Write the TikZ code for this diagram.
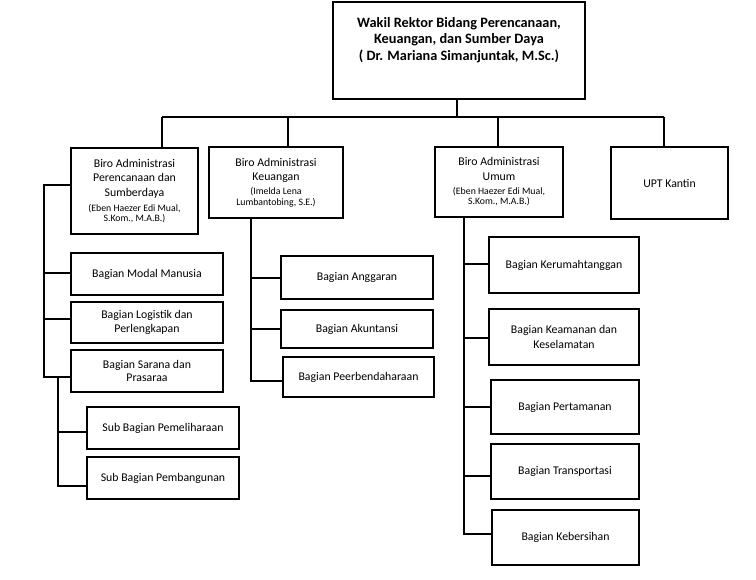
\documentclass[tikz,border=0pt]{standalone}
\usepackage{fontspec}
\setmainfont{Carlito}
\usetikzlibrary{calc}
\newcommand{\nmfont}{\fontsize{9.8}{10.5}\selectfont}
\begin{document}
\begin{tikzpicture}[x=1pt,y=-1pt,
  box/.style={draw, line width=1.1pt, inner sep=2pt, align=center,
    font=\fontsize{11.8}{14.5}\selectfont},
  conn/.style={line width=2.3pt},
  txt/.style={align=center, inner sep=0pt}]
\useasboundingbox (0,0) rectangle (756,580);
% top box
\node[box, minimum width=252pt, minimum height=97pt] (top) at (459,50.5) {};
\node[txt, font=\bfseries\fontsize{14.3}{16.8}\selectfont] (toptxt) at (459,40)
  {Wakil Rektor Bidang Perencanaan,\\Keuangan, dan Sumber Daya\\( Dr. Mariana Simanjuntak, M.Sc.)};
% level 1
\node[box, minimum width=127pt, minimum height=86pt] (b1) at (134.5,191)
  {Biro Administrasi\\Perencanaan dan\\Sumberdaya\\[0.5pt]{\nmfont (Eben Haezer Edi Mual,}\\[-4.5pt]{\nmfont S.Kom., M.A.B.)}};
\node[box, minimum width=134pt, minimum height=71pt] (b2) at (276,182.5)
  {Biro Administrasi\\Keuangan\\[-0.5pt]{\nmfont (Imelda Lena}\\[-4pt]{\nmfont Lumbantobing, S.E.)}};
\node[box, minimum width=128pt, minimum height=70pt] (b3) at (499,182)
  {Biro Administrasi\\Umum\\[0pt]{\nmfont (Eben Haezer Edi Mual,}\\[-4.5pt]{\nmfont S.Kom., M.A.B.)}};
\node[box, minimum width=117pt, minimum height=72pt] (upt) at (669.5,183) {UPT Kantin};
% left subs
\node[box, minimum width=152pt, minimum height=42pt] (m1) at (147,274) {Bagian Modal Manusia};
\node[box, minimum width=152pt, minimum height=41pt] (m2) at (147,322.5) {Bagian Logistik dan\\[-1pt]Perlengkapan};
\node[box, minimum width=152pt, minimum height=42pt] (m3) at (147,371) {Bagian Sarana dan\\[-1pt]Prasaraa};
\node[box, minimum width=152pt, minimum height=42pt] (s1) at (163,428) {Sub Bagian Pemeliharaan};
\node[box, minimum width=152pt, minimum height=42pt] (s2) at (163,478) {Sub Bagian Pembangunan};
% keuangan subs
\node[box, minimum width=152pt, minimum height=43pt] (k1) at (357,277.5) {Bagian Anggaran};
\node[box, minimum width=152pt, minimum height=38pt] (k2) at (357,329) {Bagian Akuntansi};
\node[box, minimum width=151pt, minimum height=40pt] (k3) at (358.5,377) {Bagian Peerbendaharaan};
% umum subs
\node[box, minimum width=150pt, minimum height=56pt] (u1) at (564,265) {Bagian Kerumahtanggan};
\node[box, minimum width=150pt, minimum height=56pt] (u2) at (564,337) {Bagian Keamanan dan\\Keselamatan};
\node[box, minimum width=148pt, minimum height=54pt] (u3) at (565,407) {Bagian Pertamanan};
\node[box, minimum width=148pt, minimum height=55pt] (u4) at (565,471.5) {Bagian Transportasi};
\node[box, minimum width=147pt, minimum height=55pt] (u5) at (565.5,537.5) {Bagian Kebersihan};
% bus coordinates
\coordinate (bus) at (457,117);
\coordinate (j1) at (162,117);
\coordinate (j2) at (288,117);
\coordinate (j3) at (498,117);
\coordinate (j4) at (664,117);
\draw[conn] (top.south -| bus) -- (bus);
\draw[conn] (j1) -- (j4);
\draw[conn] (j1) -- (j1 |- b1.north);
\draw[conn] (j2) -- (j2 |- b2.north);
\draw[conn] (j3) -- (j3 |- b3.north);
\draw[conn] (j4) -- (j4 |- upt.north);
% left tree
\coordinate (la) at (44,185);
\coordinate (lb) at (44,273);
\coordinate (lc) at (44,319);
\coordinate (ld) at (44,377);
\coordinate (le) at (58,432);
\coordinate (lf) at (58,486);
\draw[conn] (la -| b1.west) -- (la) -- (ld) -- (ld -| m3.west);
\draw[conn] (lb) -- (lb -| m1.west);
\draw[conn] (lc) -- (lc -| m2.west);
\draw[conn] (ld -| le) -- (lf) -- (lf -| s2.west);
\draw[conn] (le) -- (le -| s1.west);
% keuangan tree
\coordinate (ka) at (251,278);
\coordinate (kb) at (251,329);
\coordinate (kc) at (251,381);
\draw[conn] (kc |- b2.south) -- (kc) -- (kc -| k3.west);
\draw[conn] (ka) -- (ka -| k1.west);
\draw[conn] (kb) -- (kb -| k2.west);
% umum tree
\coordinate (ua) at (464,264);
\coordinate (ub) at (464,338);
\coordinate (uc) at (464,407);
\coordinate (ud) at (464,476);
\coordinate (ue) at (464,534);
\draw[conn] (ue |- b3.south) -- (ue) -- (ue -| u5.west);
\draw[conn] (ua) -- (ua -| u1.west);
\draw[conn] (ub) -- (ub -| u2.west);
\draw[conn] (uc) -- (uc -| u3.west);
\draw[conn] (ud) -- (ud -| u4.west);
\end{tikzpicture}
\end{document}
